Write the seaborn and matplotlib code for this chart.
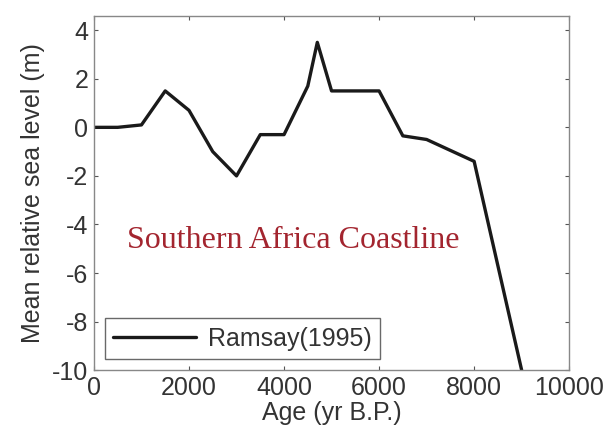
import matplotlib
matplotlib.use("Agg")
import matplotlib.pyplot as plt
import pandas as pd
import seaborn as sns

# Ramsay (1995) 남아프리카 해안 상대 해수면 곡선
age = [0, 500, 1000, 1500, 2000, 2500, 3000, 3500, 4000, 4500, 4700,
       5000, 6000, 6500, 7000, 7500, 8000, 9000]
sea_level = [0.0, 0.0, 0.1, 1.5, 0.7, -1.0, -2.0, -0.3, -0.3, 1.7, 3.5,
             1.5, 1.5, -0.35, -0.5, -0.95, -1.4, -10.0]
x_ticks = [0, 2000, 4000, 6000, 8000, 10000]
y_ticks = [4, 2, 0, -2, -4, -6, -8, -10]

df = pd.DataFrame({"age": age, "level": sea_level})

sns.set_theme(style="ticks")
plt.rcParams["font.family"] = ["Liberation Sans", "DejaVu Sans"]
plt.rcParams["axes.unicode_minus"] = False      # MATLAB 풍 하이픈 마이너스

fig = plt.figure(figsize=(6.14, 4.36), dpi=100)
ax = fig.add_axes([0.153, 0.151, 0.774, 0.812])

sns.lineplot(data=df, x="age", y="level", ax=ax, color="#1a1a1a",
             linewidth=2.4, label="Ramsay(1995)", sort=False)

ax.set_xlim(0, 10000)
ax.set_ylim(-10, 4.58)
ax.set_xticks(x_ticks)
ax.set_yticks(y_ticks)
ax.tick_params(direction="in", length=3, width=0.8, color="#555555",
               labelsize=18, labelcolor="#333333", top=True, right=True, pad=4)
for s in ax.spines.values():
    s.set_color("#888888")
    s.set_linewidth(1.0)

ax.set_xlabel("Age (yr B.P.)", fontsize=18, color="#333333", labelpad=1)
ax.set_ylabel("Mean relative sea level (m)", fontsize=18, color="#333333", labelpad=5)

ax.text(695, -4.65, "Southern Africa Coastline", color="#a3252f",
        fontsize=23, family=["Liberation Serif", "DejaVu Serif"],
        ha="left", va="center")

leg = ax.legend(loc="lower left", fontsize=18, frameon=True, fancybox=False,
                handlelength=3.3, handletextpad=0.5, borderpad=0.33,
                borderaxespad=0.45)
leg.get_frame().set_edgecolor("#444444")
leg.get_frame().set_linewidth(1.0)
for t in leg.get_texts():
    t.set_color("#333333")

fig.savefig("out.png", dpi=100)
